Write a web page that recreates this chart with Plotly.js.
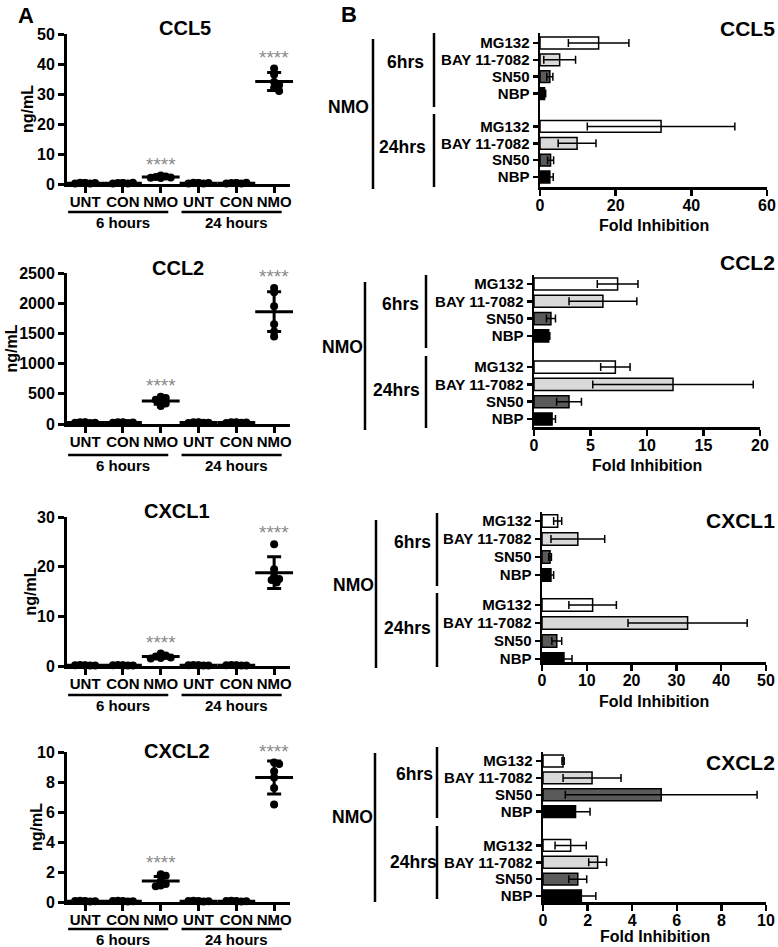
<!DOCTYPE html>
<html><head><meta charset="utf-8">
<script src="https://cdn.plot.ly/plotly-3.0.1.min.js"></script>
<style>html,body{margin:0;padding:0;background:#fff}#chart{width:778px;height:947px}</style>
</head><body><div id="chart"></div>
<script>
// ================= DATA: panel A (ng/mL, individual wells) =================
const groupTickLabels = ['UNT','CON','NMO','UNT','CON','NMO'];
const timeLabels = ['6 hours','24 hours'];
const yTitleA = 'ng/mL';
const sigLabel = '****';
const sigGroups = [2, 5];

const ccl5Points = [
  [0.3,0.2,0.4,0.3,0.2,0.3],
  [0.3,0.2,0.3,0.4,0.2,0.3],
  [2.8,2.5,2.3,2.2,2.1,2.0],
  [0.3,0.2,0.4,0.3,0.2,0.3],
  [0.3,0.2,0.3,0.4,0.2,0.3],
  [38.5,36.5,34,33,32,31]
];
const ccl5Mean = [0.28,0.28,2.3,0.28,0.28,34.2];
const ccl5Sd   = [0.1,0.1,0.3,0.1,0.1,3.0];

const ccl2Points = [
  [25,18,30,22,20,28],
  [22,18,28,25,20,30],
  [450,430,400,370,340,300],
  [25,20,30,22,18,28],
  [22,20,30,25,18,28],
  [2250,2180,1950,1650,1530,1450]
];
const ccl2Mean = [24,24,380,24,24,1860];
const ccl2Sd   = [5,5,55,5,5,330];

const cxcl1Points = [
  [0.15,0.1,0.2,0.1,0.15,0.12],
  [0.15,0.1,0.2,0.1,0.15,0.12],
  [2.5,2.1,1.9,1.7,1.6,1.5],
  [0.15,0.1,0.2,0.1,0.15,0.12],
  [0.15,0.1,0.2,0.1,0.15,0.12],
  [24.5,19.5,18,17.5,17.3,16.8]
];
const cxcl1Mean = [0.13,0.13,1.9,0.13,0.13,18.8];
const cxcl1Sd   = [0.04,0.04,0.35,0.04,0.04,3.2];

const cxcl2Points = [
  [0.06,0.04,0.08,0.05,0.06,0.04],
  [0.06,0.04,0.08,0.05,0.06,0.04],
  [1.85,1.75,1.4,1.2,1.1,1.05],
  [0.06,0.04,0.08,0.05,0.06,0.04],
  [0.06,0.04,0.08,0.05,0.06,0.04],
  [9.3,9.2,8.7,8.3,7.6,6.5]
];
const cxcl2Mean = [0.05,0.05,1.4,0.05,0.05,8.3];
const cxcl2Sd   = [0.02,0.02,0.3,0.02,0.02,1.1];

// ================= DATA: panel B (fold inhibition, mean and SD) =================
const treatments = ['MG132','BAY 11-7082','SN50','NBP'];
const timepoints = ['6hrs','24hrs'];
const cohortLabel = 'NMO';
const xTitleB = 'Fold Inhibition';
const treatmentColors = ['#ffffff','#d9d9d9','#5a5a5a','#000000'];

const ccl5Fold6   = [15.5, 5.2, 2.6, 1.2];  const ccl5FoldSd6   = [8.0, 4.2, 0.8, 0.3];
const ccl5Fold24  = [32.0, 9.8, 2.8, 2.6];  const ccl5FoldSd24  = [19.5, 5.0, 0.8, 0.9];
const ccl2Fold6   = [7.4, 6.1, 1.5, 1.3];   const ccl2FoldSd6   = [1.8, 3.0, 0.4, 0.1];
const ccl2Fold24  = [7.2, 12.3, 3.1, 1.6];  const ccl2FoldSd24  = [1.3, 7.1, 1.1, 0.3];
const cxcl1Fold6  = [3.5, 8.0, 1.8, 2.0];   const cxcl1FoldSd6  = [0.9, 6.0, 0.3, 0.6];
const cxcl1Fold24 = [11.3, 32.5, 3.3, 4.9]; const cxcl1FoldSd24 = [5.3, 13.3, 1.1, 1.8];
const cxcl2Fold6  = [0.9, 2.2, 5.3, 1.46];  const cxcl2FoldSd6  = [0.05, 1.3, 4.3, 0.65];
const cxcl2Fold24 = [1.24, 2.45, 1.56, 1.72]; const cxcl2FoldSd24 = [0.7, 0.4, 0.4, 0.65];

// ================= LAYOUT HELPERS =================
const W = 778, H = 947;
const fx = px => px / W, fy = py => 1 - py / H;
const FONT = '"Liberation Sans", Arial, sans-serif';
const bold = (size, color) => ({family: FONT, size: size, color: color || '#000', weight: 700});

const traces = [];
const shapes = [];
const annotations = [];
const layout = {
  width: W, height: H, margin: {l:0, r:0, t:0, b:0},
  paper_bgcolor: '#fff', plot_bgcolor: 'rgba(0,0,0,0)',
  showlegend: false, font: {family: FONT, color: '#000'},
  shapes: shapes, annotations: annotations
};

// panel letters
annotations.push({text:'A', x:fx(26), y:fy(1), xref:'paper', yref:'paper', showarrow:false, font:bold(22), xanchor:'center', yanchor:'top'});
annotations.push({text:'B', x:fx(349), y:fy(0), xref:'paper', yref:'paper', showarrow:false, font:bold(22), xanchor:'center', yanchor:'top'});

// ---------- panel A ----------
const leftPanels = [
  {name:'CCL5',  pts:ccl5Points,  mean:ccl5Mean,  sd:ccl5Sd,  top:34,  bottom:184, max:50,   dtick:10,  tx:185, ty:28,  off:28, ytx:27},
  {name:'CCL2',  pts:ccl2Points,  mean:ccl2Mean,  sd:ccl2Sd,  top:273, bottom:424, max:2500, dtick:500, tx:178, ty:268, off:31, ytx:11},
  {name:'CXCL1', pts:cxcl1Points, mean:cxcl1Mean, sd:cxcl1Sd, top:517, bottom:666, max:30,   dtick:10,  tx:177, ty:511, off:29, ytx:30},
  {name:'CXCL2', pts:cxcl2Points, mean:cxcl2Mean, sd:cxcl2Sd, top:752, bottom:902, max:10,   dtick:2,   tx:177, ty:751, off:27, ytx:36}
];
const LX0 = 67, LX1 = 290, LRANGE = [-0.48, 5.42];
const catPx = (LX1 - LX0) / (LRANGE[1] - LRANGE[0]);

// simple beeswarm: horizontal offsets so dots do not sit exactly on top of each other
function swarm(vals, pxPerUnit) {
  const placed = [], minD = 4, step = 2.5;
  return vals.map(v => {
    const y = v * pxPerUnit;
    const cands = [0];
    for (let k = 1; k < 5; k++) { cands.push(k * step, -k * step); }
    for (const dx of cands) {
      if (placed.every(p => Math.hypot(p.x - dx, p.y - y) >= minD)) {
        placed.push({x: dx, y: y});
        return dx / catPx;
      }
    }
    return 0;
  });
}

leftPanels.forEach((p, i) => {
  const n = i + 1;
  const xr = 'x' + (n === 1 ? '' : n), yr = 'y' + (n === 1 ? '' : n);
  const pxPerUnit = (p.bottom - p.top) / p.max;
  const groupIdx = p.pts.map((_, g) => g);

  layout['xaxis' + (n === 1 ? '' : n)] = {
    domain: [fx(LX0), fx(LX1)], anchor: yr, range: LRANGE,
    tickmode: 'array', tickvals: groupIdx, ticktext: groupTickLabels,
    showline: true, linewidth: 3, linecolor: '#000', mirror: false,
    ticks: 'outside', ticklen: 6, tickwidth: 3, tickcolor: '#000', ticklabelstandoff: -4,
    tickfont: bold(15), showgrid: false, zeroline: false, fixedrange: true
  };
  layout['yaxis' + (n === 1 ? '' : n)] = {
    domain: [fy(p.bottom), fy(p.top)], anchor: xr, range: [0, p.max],
    tick0: 0, dtick: p.dtick,
    showline: true, linewidth: 3, linecolor: '#000',
    ticks: 'outside', ticklen: 6, tickwidth: 3, tickcolor: '#000',
    tickfont: bold(16), showgrid: false, zeroline: false, fixedrange: true
  };

  // y title
  annotations.push({text: yTitleA, x: fx(p.ytx), y: fy((p.top + p.bottom) / 2), xref:'paper', yref:'paper',
    showarrow:false, textangle:-90, xanchor:'center', yanchor:'middle', font: bold(16)});

  // individual points
  const xs = [], ys = [];
  p.pts.forEach((vals, g) => {
    const offs = swarm(vals, pxPerUnit);
    vals.forEach((v, j) => { xs.push(g + offs[j]); ys.push(v); });
  });
  traces.push({type:'scatter', mode:'markers', x:xs, y:ys, xaxis:xr, yaxis:yr,
    cliponaxis:false, hoverinfo:'skip',
    marker:{color:'#000', size:8, line:{width:0}}});
  // mean +/- SD
  traces.push({type:'scatter', mode:'markers', x:groupIdx, y:p.mean, xaxis:xr, yaxis:yr,
    cliponaxis:false, hoverinfo:'skip',
    marker:{symbol:'line-ew', size:27, color:'#000', line:{width:3, color:'#000'}},
    error_y:{type:'data', array:p.sd, visible:true, color:'#000', thickness:3, width:7}});

  // significance stars
  sigGroups.forEach(g => {
    annotations.push({text: sigLabel, x: g, y: Math.max(...p.pts[g]), xref: xr, yref: yr,
      showarrow:false, yanchor:'bottom', yshift: -1,
      font:{family:FONT, size:19, color:'#8a8a8a'}});
  });

  // title
  annotations.push({text: p.name, x: fx(p.tx), y: fy(p.ty), xref:'paper', yref:'paper',
    showarrow:false, xanchor:'center', yanchor:'middle', font: bold(20)});

  // time group underlines + labels
  const lineY = fy(p.bottom + p.off);
  [[0, 2], [3, 5]].forEach((rng, k) => {
    shapes.push({type:'line', xref:xr, yref:'paper', x0: rng[0] - 0.45, x1: rng[1] + 0.2,
      y0: lineY, y1: lineY, line:{color:'#000', width:2.5}});
    annotations.push({text: timeLabels[k], x: (rng[0] + rng[1]) / 2, y: fy(p.bottom + p.off + 10.5),
      xref: xr, yref:'paper', showarrow:false, xanchor:'center', yanchor:'middle', font: bold(15)});
  });
});

// ---------- panel B ----------
const rightPanels = [
  {name:'CCL5',  v6:ccl5Fold6,  s6:ccl5FoldSd6,  v24:ccl5Fold24,  s24:ccl5FoldSd24,
   left:540, right:767, top:33, bottom:187, max:60, dtick:20, first:43, last:177, gap:1.95, ty:28, xto:38,
   nmo:{x:373, y0:39, y1:189, lx:348, ly:107}, br:{x:434, a:[33,107], b:[114,187], l6:[405,62], l24:[403,147]}},
  {name:'CCL2',  v6:ccl2Fold6,  s6:ccl2FoldSd6,  v24:ccl2Fold24,  s24:ccl2FoldSd24,
   left:534, right:760, top:275, bottom:427, max:20, dtick:5, first:284, last:419, gap:1.8, ty:262, xto:38,
   nmo:{x:365, y0:282, y1:430, lx:342, ly:347}, br:{x:426, a:[275,348], b:[356,428], l6:[400,304], l24:[396,390]}},
  {name:'CXCL1', v6:cxcl1Fold6, s6:cxcl1FoldSd6, v24:cxcl1Fold24, s24:cxcl1FoldSd24,
   left:542, right:766, top:512, bottom:662, max:50, dtick:10, first:521, last:659, gap:1.66, ty:520, xto:39,
   nmo:{x:376, y0:520, y1:668, lx:353, ly:585}, br:{x:437, a:[513,586], b:[593,667], l6:[412,542], l24:[407,628]}},
  {name:'CXCL2', v6:cxcl2Fold6, s6:cxcl2FoldSd6, v24:cxcl2Fold24, s24:cxcl2FoldSd24,
   left:543, right:766, top:752, bottom:902, max:10, dtick:2, first:761, last:896, gap:2.0, ty:762, xto:34,
   nmo:{x:375, y0:753, y1:902, lx:352, ly:817}, br:{x:437, a:[747,818], b:[826,899], l6:[414,774], l24:[413,862]}}
];

rightPanels.forEach((p, i) => {
  const n = i + 5;
  const xr = 'x' + n, yr = 'y' + n;
  const pos = [];
  treatments.forEach((_, t) => pos.push(t));
  treatments.forEach((_, t) => pos.push(treatments.length - 1 + p.gap + t));
  const span = pos[pos.length - 1];
  const slot = (p.last - p.first) / span;
  const r0 = -(p.first - p.top) / slot;
  const r1 = span + (p.bottom - p.last) / slot;

  layout['xaxis' + n] = {
    domain: [fx(p.left), fx(p.right)], anchor: yr, range: [0, p.max], tick0: 0, dtick: p.dtick,
    showline: true, linewidth: 2.5, linecolor: '#000',
    ticks: 'outside', ticklen: 6, tickwidth: 2.5, tickcolor: '#000', ticklabelstandoff: -4,
    tickfont: bold(16), showgrid: false, zeroline: false, fixedrange: true
  };
  layout['yaxis' + n] = {
    domain: [fy(p.bottom), fy(p.top)], anchor: xr, range: [r1, r0],
    tickmode: 'array', tickvals: pos, ticktext: treatments.concat(treatments),
    showline: true, linewidth: 2.5, linecolor: '#000',
    ticks: 'outside', ticklen: 5, tickwidth: 2.5, tickcolor: '#000',
    tickfont: bold(15), showgrid: false, zeroline: false, fixedrange: true
  };

  traces.push({type:'bar', orientation:'h', xaxis:xr, yaxis:yr, hoverinfo:'skip',
    y: pos, x: p.v6.concat(p.v24), width: 0.7,
    marker:{color: treatmentColors.concat(treatmentColors), line:{color:'#000', width:1.5}},
    error_x:{type:'data', array: p.s6.concat(p.s24), visible:true, color:'#000', thickness:1.5, width:4}});

  // x title
  annotations.push({text: xTitleB, x: fx((p.left + p.right) / 2), y: fy(p.bottom + p.xto), xref:'paper', yref:'paper',
    showarrow:false, xanchor:'center', yanchor:'middle', font: bold(16)});

  annotations.push({text: p.name, x: fx(777), y: fy(p.ty), xref:'paper', yref:'paper',
    showarrow:false, xanchor:'right', yanchor:'middle', font: bold(21)});

  // brackets and labels
  shapes.push({type:'line', xref:'paper', yref:'paper', x0:fx(p.nmo.x), x1:fx(p.nmo.x), y0:fy(p.nmo.y0), y1:fy(p.nmo.y1), line:{color:'#000', width:2.5}});
  shapes.push({type:'line', xref:'paper', yref:'paper', x0:fx(p.br.x), x1:fx(p.br.x), y0:fy(p.br.a[0]), y1:fy(p.br.a[1]), line:{color:'#000', width:2.5}});
  shapes.push({type:'line', xref:'paper', yref:'paper', x0:fx(p.br.x), x1:fx(p.br.x), y0:fy(p.br.b[0]), y1:fy(p.br.b[1]), line:{color:'#000', width:2.5}});
  annotations.push({text: cohortLabel, x: fx(p.nmo.lx), y: fy(p.nmo.ly), xref:'paper', yref:'paper', showarrow:false, xanchor:'center', yanchor:'middle', font: bold(17.5)});
  annotations.push({text: timepoints[0], x: fx(p.br.l6[0]), y: fy(p.br.l6[1]), xref:'paper', yref:'paper', showarrow:false, xanchor:'center', yanchor:'middle', font: bold(17.5)});
  annotations.push({text: timepoints[1], x: fx(p.br.l24[0]), y: fy(p.br.l24[1]), xref:'paper', yref:'paper', showarrow:false, xanchor:'center', yanchor:'middle', font: bold(17.5)});
});

Plotly.newPlot('chart', traces, layout, {staticPlot: true, displayModeBar: false});
</script>
</body></html>
